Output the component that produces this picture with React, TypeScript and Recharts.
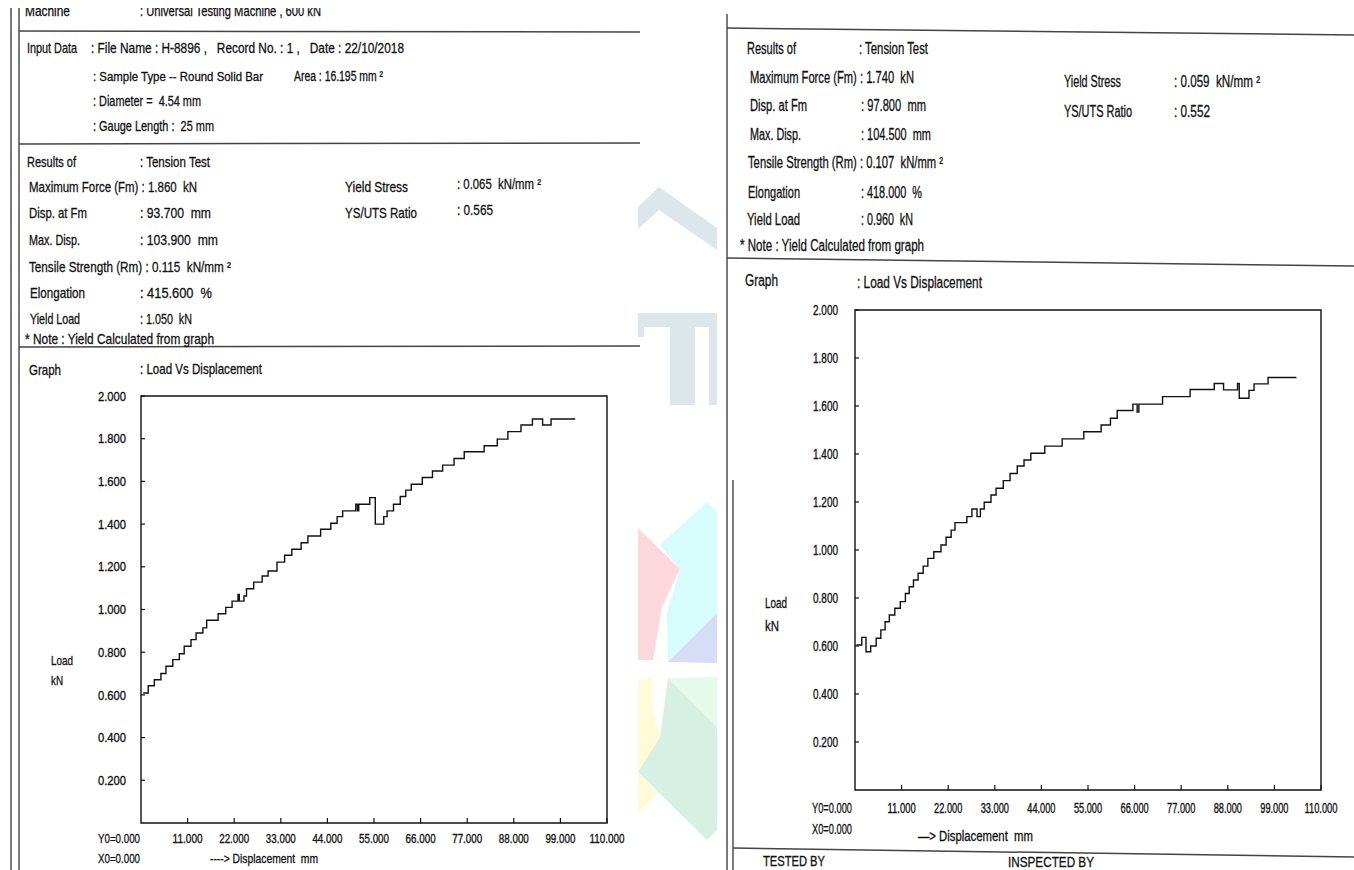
import React from 'react';
import { LineChart, Line, XAxis, YAxis, ReferenceArea } from 'recharts';

const FONT = '"Liberation Sans", Arial, "DejaVu Sans", sans-serif';

// X axis ticks (displacement, mm) and Y axis ticks (load, kN)
const xTicks = [11, 22, 33, 44, 55, 66, 77, 88, 99, 110];
const yTicks = [0.2, 0.4, 0.6, 0.8, 1.0, 1.2, 1.4, 1.6, 1.8, 2.0];

// Left report (H-8896): load vs displacement step trace
const leftDisp = [0.5, 1.7, 3.15, 4.7, 5.9, 7.5, 9.05, 10.2, 11.8, 13.0, 14.6, 15.5, 18.2, 20.0, 21.5, 22.9, 23.2, 24.3, 24.9, 26.6, 28.6, 30.0, 32.1, 33.9, 35.6, 37.8, 39.4, 42.4, 44.8, 46.3, 47.6, 50.7, 51.1, 51.4, 54.0, 55.3, 57.3, 58.1, 59.6, 61.2, 62.5, 63.8, 66.4, 68.8, 71.2, 73.9, 76.3, 81.0, 84.1, 86.6, 89.7, 92.4, 94.8, 96.8, 102.5];
const leftLoad = [0.609, 0.643, 0.671, 0.700, 0.734, 0.765, 0.793, 0.828, 0.859, 0.890, 0.914, 0.950, 0.980, 1.010, 1.039, 1.070, 1.039, 1.063, 1.097, 1.128, 1.157, 1.180, 1.222, 1.254, 1.282, 1.313, 1.344, 1.376, 1.404, 1.435, 1.462, 1.493, 1.462, 1.493, 1.524, 1.400, 1.435, 1.462, 1.493, 1.529, 1.559, 1.587, 1.618, 1.649, 1.676, 1.707, 1.739, 1.767, 1.798, 1.833, 1.864, 1.892, 1.864, 1.892, 1.892];

// Right report: load vs displacement step trace
const rightDisp = [0.35, 1.6, 2.6, 3.7, 5.0, 6.1, 7.1, 8.1, 9.4, 10.7, 11.9, 12.8, 13.8, 14.9, 16.1, 17.2, 18.6, 20.3, 21.5, 22.7, 23.6, 26.4, 27.6, 28.8, 29.6, 30.5, 32.1, 33.3, 35.0, 36.6, 38.3, 39.9, 41.5, 44.8, 48.9, 54.0, 58.1, 60.3, 61.9, 65.6, 66.6, 67.0, 72.6, 79.1, 84.8, 87.0, 90.3, 90.7, 93.0, 94.2, 97.5, 104.2];
const rightLoad = [0.604, 0.636, 0.576, 0.600, 0.632, 0.667, 0.701, 0.729, 0.757, 0.785, 0.819, 0.847, 0.875, 0.903, 0.933, 0.965, 0.993, 1.021, 1.053, 1.083, 1.114, 1.139, 1.171, 1.139, 1.171, 1.199, 1.229, 1.257, 1.289, 1.319, 1.350, 1.375, 1.403, 1.433, 1.463, 1.493, 1.521, 1.549, 1.581, 1.608, 1.575, 1.608, 1.639, 1.669, 1.694, 1.667, 1.694, 1.632, 1.665, 1.692, 1.719, 1.719];

const leftData = leftDisp.map((x, i) => ({ x, y: leftLoad[i] }));
const rightData = rightDisp.map((x, i) => ({ x, y: rightLoad[i] }));

const INK = '#111';

const T = ({ x, y, w, s = 15, children }: any) => (
  <text
    x={x}
    y={y}
    dy="0.36em"
    fontSize={s}
    textLength={w}
    lengthAdjust="spacingAndGlyphs"
    fill={INK}
    stroke={INK}
    strokeWidth={0.3}
    fontFamily={FONT}
    style={{ whiteSpace: 'pre' }}
  >
    {children}
  </text>
);

const makeTick = (kind: 'x' | 'y', size: number, perChar: number) => (props: any) => {
  const { x, y, payload } = props;
  const label = Number(payload.value).toFixed(3);
  const w = label.length * perChar;
  return (
    <text
      x={x}
      y={y}
      dy={kind === 'x' ? '0.71em' : '0.36em'}
      textAnchor={kind === 'x' ? 'middle' : 'end'}
      fontSize={size}
      fontFamily={FONT}
      fill={INK}
      stroke={INK}
      strokeWidth={0.35}
      textLength={w}
      lengthAdjust="spacingAndGlyphs"
    >
      {label}
    </text>
  );
};

const Chart = ({ data, width, height, margin, xTm, yTm, size, xChar, yChar }: any) => (
  <LineChart width={width} height={height} data={data} margin={margin}>
    <XAxis
      dataKey="x"
      type="number"
      domain={[0, 110]}
      ticks={xTicks}
      allowDataOverflow
      axisLine={false}
      tickLine={{ stroke: INK, strokeWidth: 1.2 }}
      tickSize={-5}
      tickMargin={xTm}
      height={30}
      interval={0}
      tick={makeTick('x', size, xChar)}
    />
    <YAxis
      type="number"
      domain={[0, 2]}
      ticks={yTicks}
      allowDataOverflow
      axisLine={false}
      tickLine={{ stroke: INK, strokeWidth: 1.2 }}
      tickSize={-4}
      tickMargin={yTm}
      width={40}
      interval={0}
      tick={makeTick('y', size, yChar)}
    />
    <ReferenceArea x1={0} x2={110} y1={0} y2={2} fill="none" stroke={INK} strokeWidth={1.4} ifOverflow="visible" />
    <Line
      type="stepAfter"
      dataKey="y"
      stroke={INK}
      strokeWidth={1.4}
      dot={false}
      isAnimationActive={false}
    />
  </LineChart>
);

export default function App() {
  return (
    <div style={{ position: 'absolute', left: 0, top: 0, width: 1354, height: 870, overflow: 'hidden', background: '#fff' }}>
      {/* watermark between the two sheets */}
      <svg width={1354} height={870} style={{ position: 'absolute', left: 0, top: 0 }}>
        <polygon points="638,207 659,187 717,228 717,250 659,210 638,229" fill="#dde6eb" />
        <rect x={638} y={313} width={79} height={14} fill="#dde6eb" />
        <rect x={638} y={313} width={6} height={24} fill="#dde6eb" />
        <rect x={670} y={313} width={25} height={92} fill="#dde6eb" />
        <rect x={709} y={313} width={8} height={92} fill="#dde6eb" />
        <polygon points="638,528 680,569 662,607 653,660 638,660" fill="#fdd9de" />
        <polygon points="660,545 707,502 717,512 717,613 668,662 667,613 680,569" fill="#d6fcfb" />
        <polygon points="668,662 717,613 717,663" fill="#d7ddf6" />
        <polygon points="668,678 717,677 717,727" fill="#e4fbeb" />
        <polygon points="668,678 717,727 717,830 707,840 638,772 660,737" fill="#d6f0e4" />
        <polygon points="638,680 652,678 653,713 660,737 638,772" fill="#fffbd6" />
        <polygon points="638,772 658,793 638,813" fill="#fffbd6" />
      </svg>

      <div style={{ position: 'absolute', left: 0, top: 370 }}>
        <Chart
          data={leftData}
          width={640}
          height={500}
          margin={{ top: 26, right: 33, bottom: 17, left: 101 }}
          xTm={16}
          yTm={19}
          size={13}
          xChar={5}
          yChar={5.6}
        />
      </div>

      <div style={{ position: 'absolute', left: 730, top: 280 }}>
        <Chart
          data={rightData}
          width={624}
          height={590}
          margin={{ top: 30, right: 33, bottom: 50, left: 85 }}
          xTm={18}
          yTm={21}
          size={14}
          xChar={4.7}
          yChar={5}
        />
      </div>

      <svg width={1354} height={870} style={{ position: 'absolute', left: 0, top: 0, pointerEvents: 'none' }}>
        <defs>
          <clipPath id="topcut">
            <rect x={0} y={8} width={700} height={40} />
          </clipPath>
        </defs>
        {/* left sheet frame */}
        <line x1={11} y1={8} x2={11} y2={870} stroke="#333" strokeWidth={1.3} />
        <line x1={19} y1={8} x2={19} y2={870} stroke="#333" strokeWidth={1.3} />
        <line x1={19} y1={31} x2={640} y2={32} stroke="#444" strokeWidth={1.5} />
        <line x1={19} y1={144} x2={640} y2={143} stroke="#444" strokeWidth={1.5} />
        <line x1={19} y1={347} x2={640} y2={346} stroke="#444" strokeWidth={1.5} />

        {/* right sheet frame */}
        <line x1={727} y1={14} x2={727} y2={870} stroke="#333" strokeWidth={1.3} />
        <line x1={733} y1={480} x2={733} y2={870} stroke="#333" strokeWidth={1.3} />
        <line x1={727} y1={28} x2={1354} y2={35} stroke="#444" strokeWidth={1.5} />
        <line x1={727} y1={258} x2={1354} y2={266} stroke="#444" strokeWidth={1.5} />
        <line x1={733} y1={848} x2={1354} y2={857} stroke="#444" strokeWidth={1.5} />

        {/* left sheet text */}
        <g clipPath="url(#topcut)">
          <T x={25} y={11} w={45}>Machine</T>
          <T x={140} y={11} w={181}>: Universal Testing Machine , 600 kN</T>
        </g>
        <T x={27} y={48} w={50}>Input Data</T>
        <T x={91} y={48} w={313}>: File Name : H-8896 ,   Record No. : 1 ,   Date : 22/10/2018</T>
        <T x={93} y={76} w={170} s={13}>: Sample Type -- Round Solid Bar</T>
        <T x={294} y={76} w={89} s={14}>Area : 16.195 mm ²</T>
        <T x={93} y={101} w={108}>: Diameter =  4.54 mm</T>
        <T x={93} y={126} w={121}>: Gauge Length :  25 mm</T>

        <T x={27} y={162} w={49}>Results of</T>
        <T x={140} y={162} w={70}>: Tension Test</T>
        <T x={29} y={187} w={168}>Maximum Force (Fm) : 1.860  kN</T>
        <T x={345} y={187} w={63}>Yield Stress</T>
        <T x={457} y={184} w={84}>: 0.065  kN/mm ²</T>
        <T x={29} y={213} w={58}>Disp. at Fm</T>
        <T x={140} y={213} w={71}>: 93.700  mm</T>
        <T x={345} y={213} w={72}>YS/UTS Ratio</T>
        <T x={457} y={210} w={36}>: 0.565</T>
        <T x={29} y={240} w={51}>Max. Disp.</T>
        <T x={140} y={240} w={78}>: 103.900  mm</T>
        <T x={29} y={267} w={202}>Tensile Strength (Rm) : 0.115  kN/mm ²</T>
        <T x={30} y={293} w={55}>Elongation</T>
        <T x={140} y={293} w={72}>: 415.600  %</T>
        <T x={30} y={319} w={50}>Yield Load</T>
        <T x={140} y={319} w={52}>: 1.050  kN</T>
        <T x={25} y={339} w={189}>* Note : Yield Calculated from graph</T>
        <T x={29} y={370} w={32}>Graph</T>
        <T x={140} y={369} w={122}>: Load Vs Displacement</T>

        <T x={51} y={660} w={22} s={13}>Load</T>
        <T x={51} y={680} w={12} s={13}>kN</T>
        <T x={98} y={838} w={42} s={13}>Y0=0.000</T>
        <T x={98} y={858} w={42} s={13}>X0=0.000</T>
        <T x={210} y={858} w={108} s={13}>----&gt; Displacement  mm</T>

        {/* right sheet text */}
        <T x={747} y={48} w={49} s={16}>Results of</T>
        <T x={859} y={48} w={69} s={16}>: Tension Test</T>
        <T x={750} y={77} w={164} s={16}>Maximum Force (Fm) : 1.740  kN</T>
        <T x={1064} y={81} w={57} s={16}>Yield Stress</T>
        <T x={1174} y={81} w={86} s={16}>: 0.059  kN/mm ²</T>
        <T x={750} y={105} w={57} s={16}>Disp. at Fm</T>
        <T x={861} y={105} w={65} s={16}>: 97.800  mm</T>
        <T x={1064} y={111} w={68} s={16}>YS/UTS Ratio</T>
        <T x={1174} y={111} w={36} s={16}>: 0.552</T>
        <T x={750} y={134} w={51} s={16}>Max. Disp.</T>
        <T x={861} y={134} w={70} s={16}>: 104.500  mm</T>
        <T x={748} y={162} w={195} s={16}>Tensile Strength (Rm) : 0.107  kN/mm ²</T>
        <T x={748} y={192} w={52} s={16}>Elongation</T>
        <T x={861} y={192} w={61} s={16}>: 418.000  %</T>
        <T x={747} y={219} w={53} s={16}>Yield Load</T>
        <T x={861} y={219} w={52} s={16}>: 0.960  kN</T>
        <T x={740} y={245} w={184} s={16}>* Note : Yield Calculated from graph</T>
        <T x={745} y={280} w={33} s={16}>Graph</T>
        <T x={857} y={282} w={125} s={16}>: Load Vs Displacement</T>

        <T x={765} y={603} w={22} s={14}>Load</T>
        <T x={765} y={626} w={14} s={14}>kN</T>
        <T x={812} y={808} w={40} s={14}>Y0=0.000</T>
        <T x={812} y={829} w={40} s={14}>X0=0.000</T>
        <T x={918} y={836} w={115} s={14}>—&gt; Displacement  mm</T>

        <T x={763} y={861} w={62} s={14}>TESTED BY</T>
        <T x={1008} y={862} w={86} s={14}>INSPECTED BY</T>
      </svg>
    </div>
  );
}
